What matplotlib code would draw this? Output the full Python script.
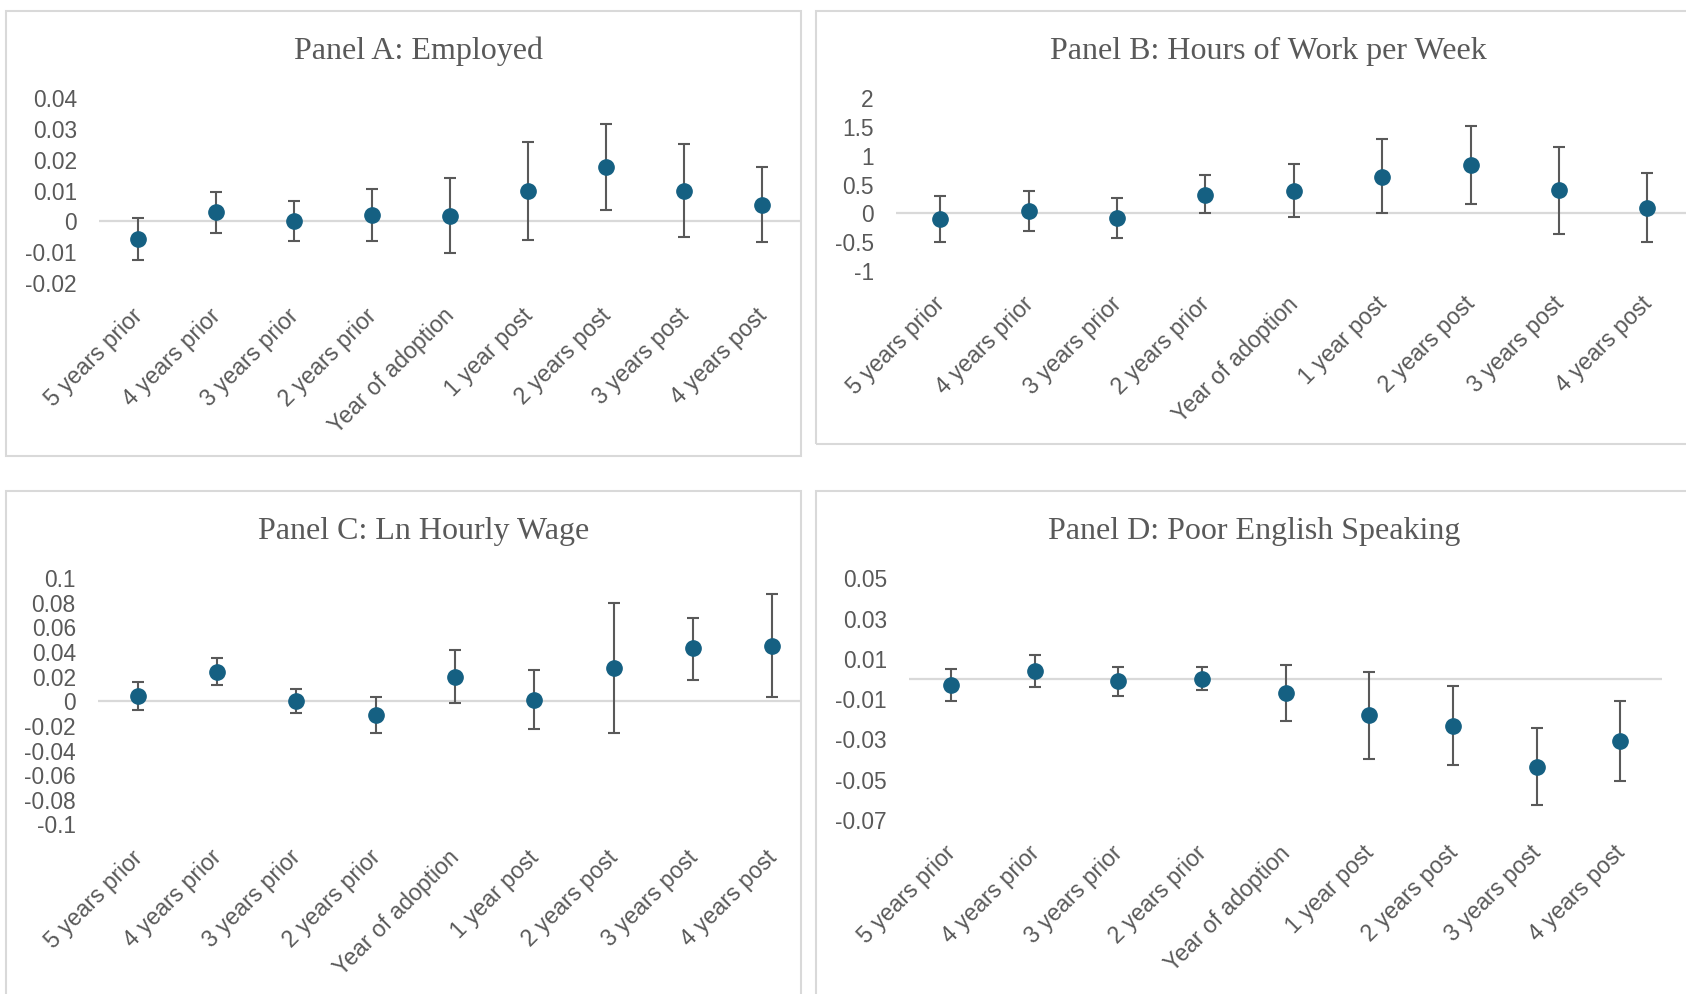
import numpy as np
import matplotlib.pyplot as plt
import matplotlib.transforms as mtransforms
from matplotlib.patches import Rectangle

W, H = 1686, 994
GREY = "#595959"
BLUE = "#156082"
LIGHT = "#d9d9d9"

categories = ["5 years prior", "4 years prior", "3 years prior", "2 years prior",
              "Year of adoption", "1 year post", "2 years post", "3 years post",
              "4 years post"]

# Panel A: Employed
est_a = [-0.0059, 0.0029, 0.0002, 0.0021, 0.0018, 0.0100, 0.0177, 0.0100, 0.0053]
hi_a = [0.0009, 0.0096, 0.0066, 0.0104, 0.0141, 0.0259, 0.0317, 0.0250, 0.0177]
lo_a = [-0.0126, -0.0037, -0.0064, -0.0064, -0.0103, -0.0061, 0.0036, -0.0051, -0.0067]
ticks_a = [-0.02, -0.01, 0, 0.01, 0.02, 0.03, 0.04]

# Panel B: Hours of work per week
est_b = [-0.09, 0.04, -0.08, 0.32, 0.39, 0.64, 0.85, 0.40, 0.10]
hi_b = [0.30, 0.39, 0.27, 0.66, 0.86, 1.30, 1.52, 1.15, 0.70]
lo_b = [-0.49, -0.30, -0.42, 0.0, -0.07, 0.0, 0.17, -0.35, -0.50]
ticks_b = [-1, -0.5, 0, 0.5, 1, 1.5, 2]

# Panel C: Ln hourly wage
est_c = [0.0041, 0.0238, 0.0, -0.0110, 0.0200, 0.0014, 0.0273, 0.0432, 0.0451]
hi_c = [0.0160, 0.0349, 0.0097, 0.0032, 0.0416, 0.0257, 0.0800, 0.0680, 0.0873]
lo_c = [-0.0068, 0.0130, -0.0097, -0.0257, -0.0010, -0.0224, -0.0260, 0.0176, 0.0032]
ticks_c = [-0.1, -0.08, -0.06, -0.04, -0.02, 0, 0.02, 0.04, 0.06, 0.08, 0.1]

# Panel D: Poor English speaking
est_d = [-0.0032, 0.0039, -0.0011, 0.0, -0.0069, -0.0181, -0.0233, -0.0435, -0.0307]
hi_d = [0.0049, 0.0120, 0.0059, 0.0059, 0.0070, 0.0034, -0.0036, -0.0245, -0.0110]
lo_d = [-0.0110, -0.0039, -0.0082, -0.0057, -0.0206, -0.0397, -0.0427, -0.0624, -0.0507]
ticks_d = [-0.07, -0.05, -0.03, -0.01, 0.01, 0.03, 0.05]

titles = ["Panel A: Employed", "Panel B: Hours of Work per Week",
          "Panel C: Ln Hourly Wage", "Panel D: Poor English Speaking"]

fig = plt.figure(figsize=(W / 100, H / 100), dpi=100)


def px_axes(x0, y0, x1, y1):
    # axes box given in pixels from the top-left corner
    return fig.add_axes([x0 / W, 1 - y1 / H, (x1 - x0) / W, (y1 - y0) / H])


def frame(x0, y0, x1, y1):
    fig.add_artist(Rectangle((x0 / W, 1 - y1 / H), (x1 - x0) / W, (y1 - y0) / H,
                             transform=fig.transFigure, fill=False,
                             ec=LIGHT, lw=1.5))


def panel(ax, est, lo, hi, ticks, xmax):
    est = np.array(est)
    x = np.arange(len(est))
    err = [est - np.array(lo), np.array(hi) - est]
    ax.axhline(0, color=LIGHT, lw=1.6, zorder=1)
    ax.errorbar(x, est, yerr=err, fmt="o", color=BLUE, ms=11, ecolor=GREY,
                elinewidth=1.5, capsize=4.3, capthick=1.5, zorder=3)
    ax.set_xlim(-0.5, xmax)
    ax.set_ylim(ticks[0], ticks[-1])
    ax.set_yticks(ticks)
    ax.set_yticklabels(["{:g}".format(round(t, 4)) for t in ticks],
                       fontsize=16.4, color=GREY, family="Liberation Sans")
    ax.set_xticks(x)
    ax.set_xticklabels(categories, rotation=45, ha="right", va="top",
                       rotation_mode="anchor", fontsize=16.6, color=GREY,
                       family="Liberation Sans")
    ax.tick_params(axis="both", length=0)
    ax.tick_params(axis="y", pad=16)
    ax.tick_params(axis="x", pad=17)
    # nudge the slanted category labels a little to the left
    shift = mtransforms.ScaledTranslation(-7 / 100, 2 / 100, fig.dpi_scale_trans)
    for lab in ax.get_xticklabels():
        lab.set_transform(lab.get_transform() + shift)
    for s in ax.spines.values():
        s.set_visible(False)
    ax.patch.set_alpha(0)


frame(6, 11, 801, 456)
frame(816, 11, 1700, 444)
frame(6, 491, 801, 1010)
frame(816, 491, 1700, 1010)

ax_a = px_axes(99, 98.3, 801, 282.7)
panel(ax_a, est_a, lo_a, hi_a, ticks_a, 8.5)

ax_b = px_axes(896, 98.3, 1686, 271)
panel(ax_b, est_b, lo_b, hi_b, ticks_b, 8.5 - 5.6 / 88.4)

ax_c = px_axes(98, 578.3, 801, 824.3)
panel(ax_c, est_c, lo_c, hi_c, ticks_c, 8.5 - 11 / 79.3)

ax_d = px_axes(909, 578.3, 1662, 820)
panel(ax_d, est_d, lo_d, hi_d, ticks_d, 8.5)

title_pos = [(418, 59), (1268, 59), (424, 539), (1254, 539)]
for (tx, ty), t in zip(title_pos, titles):
    fig.text(tx / W, 1 - ty / H, t, ha="center", va="baseline", fontsize=23,
             color=GREY, family="Liberation Serif")

fig.savefig("out.png", dpi=100, facecolor="white")
